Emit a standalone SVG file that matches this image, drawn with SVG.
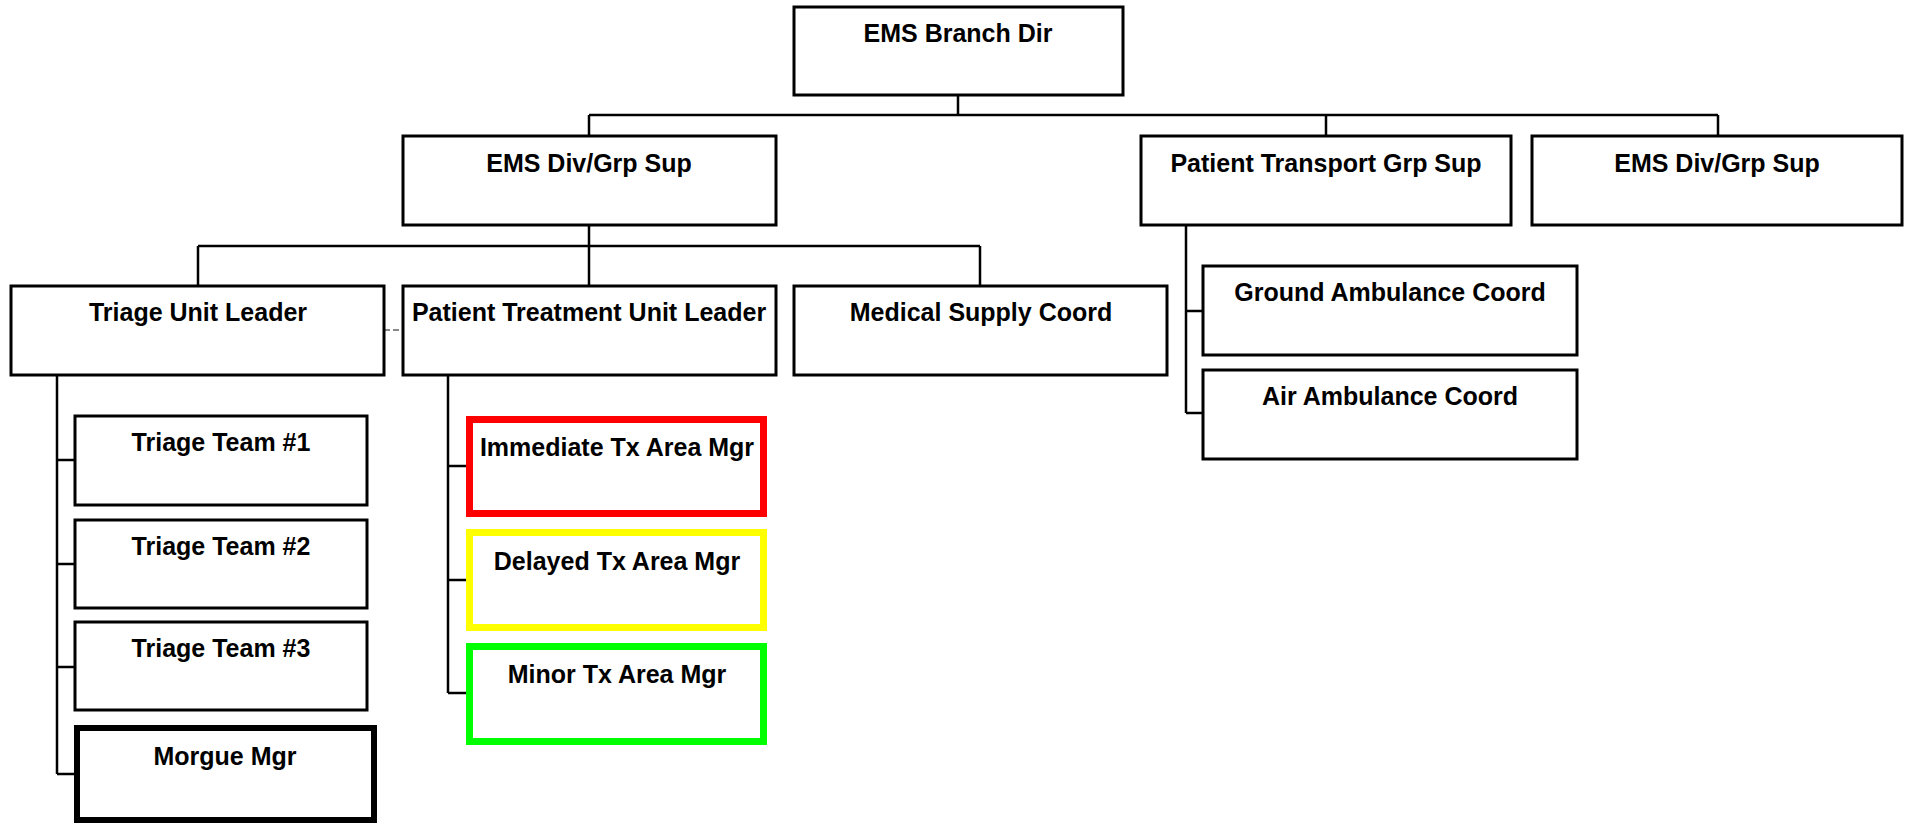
<svg xmlns="http://www.w3.org/2000/svg" width="1909" height="824" viewBox="0 0 1909 824">
  <style>
    .box { fill: #ffffff; stroke: #000000; stroke-width: 3; }
    .thick { stroke-width: 6; }
    .red { stroke: #ff0000; stroke-width: 7; }
    .yellow { stroke: #ffff00; stroke-width: 7; }
    .green { stroke: #00ff00; stroke-width: 7; }
    .lbl { font-family: "Liberation Sans", Arial, Helvetica, sans-serif; font-weight: bold; font-size: 25px; fill: #000000; text-anchor: middle; }
    .link { fill: none; stroke: #000000; stroke-width: 2.5; }
    .aux { fill: none; stroke: #888888; stroke-width: 2; stroke-dasharray: 6 3; }
  </style>
  <rect width="1909" height="824" fill="#ffffff"/>

  <!-- connectors -->
  <g id="connectors">
    <!-- branch director to groups -->
    <path class="link" d="M958 95 V115 M589 115 H1718 M589 115 V136 M1326 115 V136 M1718 115 V136"/>
    <!-- EMS Div/Grp Sup to units -->
    <path class="link" d="M589 225 V286 M198 246 H980 M198 246 V286 M980 246 V286"/>
    <!-- triage unit children -->
    <path class="link" d="M57 375 V774 M57 460 H75 M57 564 H75 M57 667 H75 M57 774 H75"/>
    <!-- treatment unit children -->
    <path class="link" d="M448 375 V693 M448 466 H466 M448 580 H466 M448 693 H466"/>
    <!-- transport group children -->
    <path class="link" d="M1186 225 V413 M1186 311 H1203 M1186 413 H1203"/>
    <!-- triage / treatment coordination -->
    <path class="aux" d="M384 330 H403"/>
  </g>

  <g id="ems-branch-dir">
    <rect class="box" x="794" y="7" width="329" height="88"/>
    <text class="lbl" x="958" y="42">EMS Branch Dir</text>
  </g>

  <g id="ems-div-grp-sup-1">
    <rect class="box" x="403" y="136" width="373" height="89"/>
    <text class="lbl" x="589" y="172">EMS Div/Grp Sup</text>
  </g>

  <g id="patient-transport-grp-sup">
    <rect class="box" x="1141" y="136" width="370" height="89"/>
    <text class="lbl" x="1326" y="172">Patient Transport Grp Sup</text>
  </g>

  <g id="ems-div-grp-sup-2">
    <rect class="box" x="1532" y="136" width="370" height="89"/>
    <text class="lbl" x="1717" y="172">EMS Div/Grp Sup</text>
  </g>

  <g id="triage-unit-leader">
    <rect class="box" x="11" y="286" width="373" height="89"/>
    <text class="lbl" x="198" y="321">Triage Unit Leader</text>
  </g>

  <g id="patient-treatment-unit-leader">
    <rect class="box" x="403" y="286" width="373" height="89"/>
    <text class="lbl" x="589" y="321">Patient Treatment Unit Leader</text>
  </g>

  <g id="medical-supply-coord">
    <rect class="box" x="794" y="286" width="373" height="89"/>
    <text class="lbl" x="981" y="321">Medical Supply Coord</text>
  </g>

  <g id="ground-ambulance-coord">
    <rect class="box" x="1203" y="266" width="374" height="89"/>
    <text class="lbl" x="1390" y="301">Ground Ambulance Coord</text>
  </g>

  <g id="air-ambulance-coord">
    <rect class="box" x="1203" y="370" width="374" height="89"/>
    <text class="lbl" x="1390" y="405">Air Ambulance Coord</text>
  </g>

  <g id="triage-team-1">
    <rect class="box" x="75" y="416" width="292" height="89"/>
    <text class="lbl" x="221" y="451">Triage Team #1</text>
  </g>

  <g id="triage-team-2">
    <rect class="box" x="75" y="520" width="292" height="88"/>
    <text class="lbl" x="221" y="555">Triage Team #2</text>
  </g>

  <g id="triage-team-3">
    <rect class="box" x="75" y="622" width="292" height="88"/>
    <text class="lbl" x="221" y="657">Triage Team #3</text>
  </g>

  <g id="morgue-mgr">
    <rect class="box thick" x="77" y="728" width="297" height="92"/>
    <text class="lbl" x="225" y="765">Morgue Mgr</text>
  </g>

  <g id="immediate-tx-area-mgr">
    <rect class="box red" x="469.5" y="419.5" width="294" height="94"/>
    <text class="lbl" x="617" y="456">Immediate Tx Area Mgr</text>
  </g>

  <g id="delayed-tx-area-mgr">
    <rect class="box yellow" x="469.5" y="532.5" width="294" height="95"/>
    <text class="lbl" x="617" y="570">Delayed Tx Area Mgr</text>
  </g>

  <g id="minor-tx-area-mgr">
    <rect class="box green" x="469.5" y="646.5" width="294" height="95"/>
    <text class="lbl" x="617" y="683">Minor Tx Area Mgr</text>
  </g>
</svg>
